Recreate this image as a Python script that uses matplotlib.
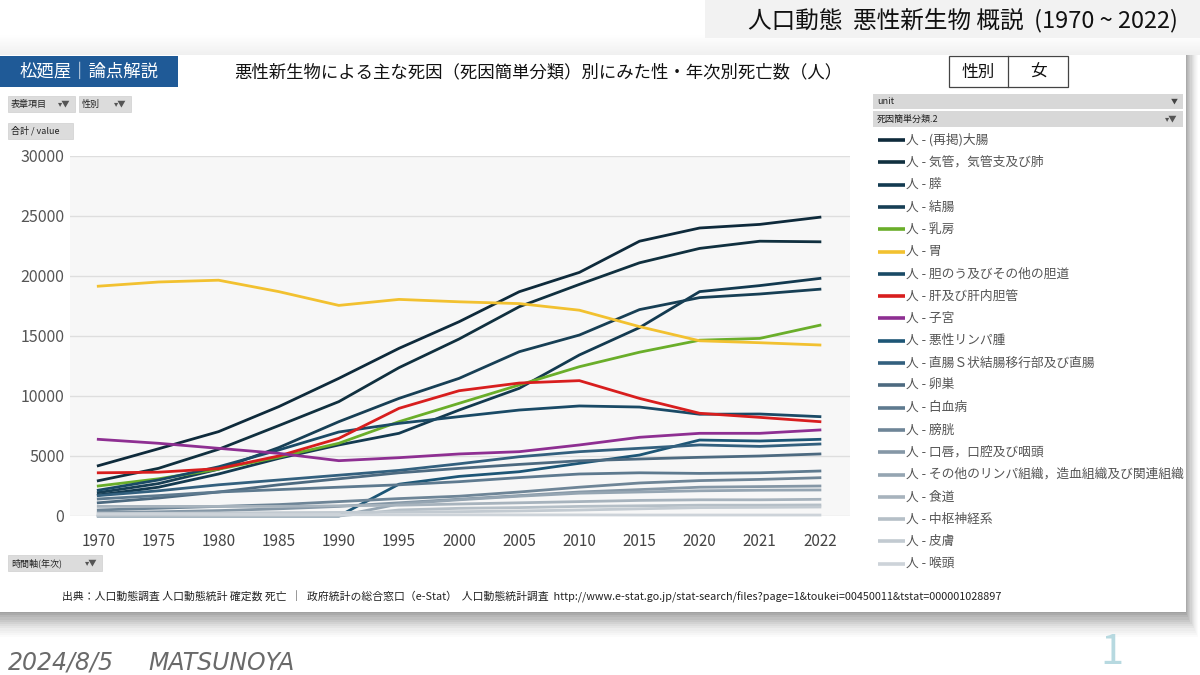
import matplotlib
matplotlib.use("Agg")
import matplotlib.pyplot as plt
from matplotlib.patches import Rectangle
import numpy as np

plt.rcParams['font.family'] = ['Noto Sans CJK JP', 'DejaVu Sans']

# ---------------------------------------------------------------------------
# Data (女, 死亡数)
# ---------------------------------------------------------------------------
years = ['1970', '1975', '1980', '1985', '1990', '1995', '2000',
         '2005', '2010', '2015', '2020', '2021', '2022']

causes = ['(再掲)大腸', '気管，気管支及び肺', '膵', '結腸', '乳房', '胃',
          '胆のう及びその他の胆道', '肝及び肝内胆管', '子宮', '悪性リンパ腫',
          '直腸Ｓ状結腸移行部及び直腸', '卵巣', '白血病', '膀胱',
          '口唇，口腔及び咽頭', 'その他のリンパ組織，造血組織及び関連組織',
          '食道', '中枢神経系', '皮膚', '喉頭']

colon_all = [4190, 5600, 7030, 9110, 11470, 13970, 16190, 18690, 20300, 22900, 24000, 24300, 24900]
lung = [2940, 3970, 5560, 7530, 9530, 12360, 14750, 17440, 19300, 21100, 22300, 22900, 22850]
pancreas = [1750, 2400, 3500, 4800, 5920, 6890, 8830, 10640, 13420, 15700, 18700, 19200, 19800]
colon = [1950, 2700, 3900, 5700, 7860, 9800, 11470, 13690, 15080, 17200, 18200, 18500, 18900]
breast = [2500, 3100, 3900, 4900, 6060, 7860, 9390, 10920, 12440, 13650, 14650, 14800, 15900]
stomach = [19150, 19500, 19650, 18700, 17550, 18050, 17850, 17700, 17150, 15780, 14600, 14440, 14250]
gallbladder = [2150, 3000, 4100, 5500, 7000, 7720, 8280, 8830, 9170, 9080, 8480, 8500, 8280]
liver = [3600, 3650, 3950, 5000, 6470, 8970, 10440, 11080, 11280, 9800, 8560, 8220, 7860]
uterus = [6390, 6060, 5640, 5220, 4610, 4860, 5170, 5360, 5920, 6560, 6890, 6890, 7170]
lymphoma = [0, 0, 0, 0, 0, 2650, 3300, 3690, 4390, 5080, 6330, 6250, 6390]
rectum = [1700, 2100, 2600, 3000, 3400, 3800, 4350, 4940, 5360, 5640, 5920, 5800, 6000]
ovary = [1100, 1500, 2000, 2600, 3100, 3600, 3970, 4300, 4600, 4750, 4890, 5000, 5170]
leukemia = [1420, 1700, 2000, 2200, 2400, 2600, 2860, 3200, 3500, 3600, 3550, 3600, 3750]
bladder = [500, 650, 800, 950, 1200, 1450, 1650, 2000, 2400, 2750, 2950, 3050, 3190]
oral = [300, 350, 450, 600, 800, 1100, 1400, 1700, 2000, 2200, 2400, 2450, 2500]
other_lymph = [0, 0, 0, 0, 0, 1000, 1350, 1650, 1900, 2000, 2100, 2150, 2170]
esophagus = [800, 800, 800, 800, 850, 900, 1000, 1100, 1200, 1300, 1350, 1350, 1390]
cns = [0, 0, 0, 0, 0, 500, 640, 700, 800, 850, 900, 900, 920]
skin = [200, 220, 250, 280, 300, 330, 360, 420, 500, 600, 700, 720, 750]
larynx = [150, 150, 130, 120, 110, 100, 100, 90, 90, 80, 80, 80, 80]

series = [colon_all, lung, pancreas, colon, breast, stomach, gallbladder, liver,
          uterus, lymphoma, rectum, ovary, leukemia, bladder, oral, other_lymph,
          esophagus, cns, skin, larynx]

colors = ['#0e2a3b', '#10303f', '#133a50', '#173f55', '#6aae2a', '#f2c130',
          '#1a4a66', '#d81e1e', '#8e2f92', '#1d5676', '#33607e', '#4d6a80',
          '#5e7a8f', '#6e8597', '#8597a6', '#95a5b2', '#a7b3bd', '#b5bfc7',
          '#c2cad1', '#cdd3d9']

# ---------------------------------------------------------------------------
W, H = 1200, 675
fig = plt.figure(figsize=(12, 6.75), dpi=100, facecolor='white')

# overlay axes in pixel coordinates
bg = fig.add_axes([0, 0, 1, 1])
bg.set_xlim(0, W)
bg.set_ylim(H, 0)
bg.axis('off')

# shadow above card (soft gradient)
grad = np.linspace(0, 1, 50).reshape(50, 1)
bg.imshow(grad, cmap='Greys', vmin=0, vmax=8, extent=[0, 1200, 55, 35],
          aspect='auto', zorder=0)
# shadow below / right of card
for i, a in enumerate([0.05, 0.05, 0.05, 0.05, 0.04, 0.04, 0.03, 0.03, 0.02, 0.02, 0.02, 0.015]):
    bg.add_patch(Rectangle((0, 55), 1186 + i * 1.1, 558 + i * 2.2,
                           facecolor='black', alpha=a, lw=0, zorder=1))
bg.add_patch(Rectangle((0, 55), 1186, 557, facecolor='white', lw=0, zorder=2))

# top right header
bg.add_patch(Rectangle((705, 0), 495, 38, facecolor='#f2f2f2', lw=0, zorder=2))
bg.text(1178, 20, '人口動態  悪性新生物 概説  (1970 ~ 2022)', ha='right', va='center',
        fontsize=17, color='#111111', zorder=3)

# brand label
bg.add_patch(Rectangle((0, 56), 178, 31, facecolor='#1f5a97', lw=0, zorder=3))
bg.text(89, 71.5, '松廼屋｜論点解説', ha='center', va='center', fontsize=12.5,
        color='white', zorder=4)

# chart title
bg.text(538, 72, '悪性新生物による主な死因（死因簡単分類）別にみた性・年次別死亡数（人）',
        ha='center', va='center', fontsize=12.5, color='#111111', zorder=4)

# 性別 / 女 box
bg.add_patch(Rectangle((949, 56), 119, 31, facecolor='white', edgecolor='#444444',
                       lw=0.9, zorder=3))
bg.plot([1008, 1008], [56, 87], color='#444444', lw=0.9, zorder=4)
bg.text(978, 72, '性別', ha='center', va='center', fontsize=12, color='#111111', zorder=4)
bg.text(1038, 72, '女', ha='center', va='center', fontsize=12, color='#111111', zorder=4)


def button(x, y, w, h, label, arrow=True):
    bg.add_patch(Rectangle((x, y), w, h, facecolor='#dcdcdc', edgecolor='#cfcfcf',
                           lw=0.5, zorder=3))
    bg.text(x + 3, y + h / 2, label, ha='left', va='center', fontsize=6.5,
            color='#222222', zorder=4)
    if arrow:
        bg.text(x + w - 4, y + h / 2, '▾▼', ha='right', va='center', fontsize=6,
                color='#555555', zorder=4)


button(8, 96, 67, 16, '表章項目')
button(79, 96, 52, 16, '性別')
button(8, 123, 65, 16, '合計 / value', arrow=False)
button(8, 555, 94, 16, '時間軸(年次)')

# legend panel headers
bg.add_patch(Rectangle((873, 94), 310, 15, facecolor='#d8d8d8', lw=0, zorder=3))
bg.text(877, 101.5, 'unit', ha='left', va='center', fontsize=6.5, color='#222222', zorder=4)
bg.text(1178, 101.5, '▼', ha='right', va='center', fontsize=5, color='#444444', zorder=4)
bg.add_patch(Rectangle((873, 111), 310, 16, facecolor='#d8d8d8', lw=0, zorder=3))
bg.text(877, 119, '死因簡単分類.2', ha='left', va='center', fontsize=6.5, color='#222222', zorder=4)
bg.text(1178, 119, '▾▼', ha='right', va='center', fontsize=6, color='#555555', zorder=4)

# legend entries
for i, (name, col) in enumerate(zip(causes, colors)):
    yy = 140 + 22.3 * i
    bg.plot([878, 905], [yy, yy], color=col, lw=2.6, solid_capstyle='butt', zorder=4)
    bg.text(906, yy, f'人 - {name}', ha='left', va='center', fontsize=9.2,
            color='#555555', zorder=4)

# source footer
bg.text(62, 597, '出典：人口動態調査 人口動態統計 確定数 死亡  ｜  政府統計の総合窓口（e-Stat）  人口動態統計調査  '
        'http://www.e-stat.go.jp/stat-search/files?page=1&toukei=00450011&tstat=000001028897',
        ha='left', va='center', fontsize=7.8, color='#222222', zorder=4)

# bottom date / signature
bg.text(8, 663, '2024/8/5', ha='left', va='center', fontsize=17,
        color='#6a6a6a', zorder=4, fontstyle='italic', family='DejaVu Sans')
bg.text(148, 663, 'MATSUNOYA', ha='left', va='center', fontsize=17,
        color='#6a6a6a', zorder=4, fontstyle='italic', family='DejaVu Sans')
bg.text(1112, 652, '1', ha='center', va='center', fontsize=30, color='#b7d9e0',
        zorder=4)

# ---------------------------------------------------------------------------
# main chart
# ---------------------------------------------------------------------------
ax = fig.add_axes([70 / W, (H - 516) / H, 780 / W, 360 / H])
ax.set_facecolor('#f7f7f7')
x = np.arange(len(years))
for vals, col in zip(series, colors):
    ax.plot(x, vals, color=col, lw=2.0, clip_on=False, zorder=3,
            solid_joinstyle='round')

ax.set_xlim(-0.47, 12.5)
ax.set_ylim(0, 30000)
ax.set_yticks(np.arange(0, 30001, 5000))
ax.set_yticklabels([str(v) for v in range(0, 30001, 5000)])
ax.set_xticks(x)
ax.set_xticklabels(years)
ax.grid(axis='y', color='#dedede', lw=1.0, zorder=0)
ax.set_axisbelow(True)
for s in ax.spines.values():
    s.set_visible(False)
ax.tick_params(axis='y', length=0, pad=4, labelsize=11.5, labelcolor='#555555')
ax.tick_params(axis='x', length=0, pad=12, labelsize=11, labelcolor='#444444')

fig.savefig('out.png', dpi=100, facecolor='white')
